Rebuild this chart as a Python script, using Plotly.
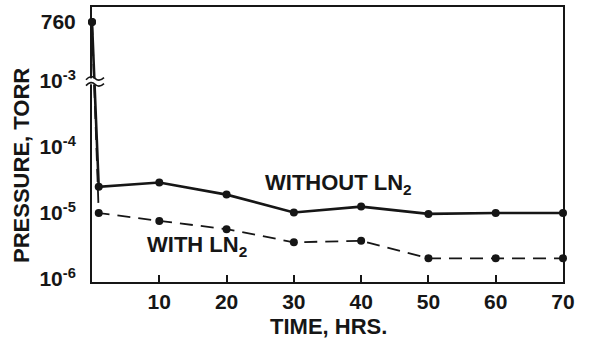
import math
import plotly.graph_objects as go

# ---- data ----
time_hrs = [0, 1, 10, 20, 30, 40, 50, 60, 70]
p_without_ln2 = [760, 2.5e-5, 2.9e-5, 1.9e-5, 1.02e-5, 1.25e-5, 0.97e-5, 1.0e-5, 1.0e-5]
p_with_ln2 = [760, 1.0e-5, 7.6e-6, 5.7e-6, 3.6e-6, 3.8e-6, 2.06e-6, 2.06e-6, 2.06e-6]
x_ticks = [10, 20, 30, 40, 50, 60, 70]
y_tick_pressures = [1e-6, 1e-5, 1e-4, 1e-3, 760]
y_tick_labels = ["10<sup>-6</sup>", "10<sup>-5</sup>", "10<sup>-4</sup>", "10<sup>-3</sup>", "760"]
x_title = "TIME, HRS."
y_title = "PRESSURE, TORR"

# broken log axis: below 1e-3 is log10; atmosphere (760) placed just above the break
BREAK_TOP = -2.106


def ypos(p):
    return BREAK_TOP if p > 1e-3 else math.log10(p)


INK = "#161616"
FONT = "Liberation Sans"

fig = go.Figure()
fig.add_trace(go.Scatter(
    x=time_hrs, y=[ypos(p) for p in p_without_ln2], mode="lines+markers",
    line=dict(color=INK, width=2.6), marker=dict(color=INK, size=8),
    cliponaxis=False, showlegend=False, hoverinfo="skip"))
fig.add_trace(go.Scatter(
    x=time_hrs, y=[ypos(p) for p in p_with_ln2], mode="lines+markers",
    line=dict(color=INK, width=1.8, dash="13px,8px"), marker=dict(color=INK, size=8),
    cliponaxis=False, showlegend=False, hoverinfo="skip"))

# axis break symbol
px = 1 / 471.0
fig.add_shape(type="rect", xref="paper", yref="y", x0=-6 * px, x1=12 * px, y0=-2.96, y1=-3.05,
              fillcolor="white", line=dict(width=0), layer="above")
for yb in (-2.96, -3.05):
    fig.add_shape(type="path", xref="paper", yref="y",
                  path=f"M {-6*px},{yb-0.02} Q {-1*px},{yb+0.06} {3*px},{yb} T {12*px},{yb+0.01}",
                  line=dict(color=INK, width=1.6), layer="above")

fig.add_annotation(x=36.6, y=-4.56, text="WITHOUT LN<sub>2</sub>", showarrow=False,
                   xanchor="center", yanchor="middle",
                   font=dict(family=FONT, size=22, color=INK, weight="bold"))
fig.add_annotation(x=15.6, y=-5.5, text="WITH LN<sub>2</sub>", showarrow=False,
                   xanchor="center", yanchor="middle",
                   font=dict(family=FONT, size=22, color=INK, weight="bold"))

# axis titles
fig.add_annotation(xref="paper", yref="paper", x=0.503, y=-0.162, text=x_title, showarrow=False,
                   xanchor="center", yanchor="middle",
                   font=dict(family=FONT, size=22, color=INK, weight="bold"))
fig.add_annotation(xref="paper", yref="paper", x=-0.1486, y=0.422, text=y_title, showarrow=False,
                   xanchor="center", yanchor="middle", textangle=-90,
                   font=dict(family=FONT, size=22, color=INK, weight="bold"))

fig.update_layout(
    width=593, height=339,
    margin=dict(l=92, r=30, t=7, b=57, autoexpand=False),
    paper_bgcolor="white", plot_bgcolor="white",
    font=dict(family=FONT, color=INK, weight="bold"),
    xaxis=dict(range=[0, 70], tickvals=x_ticks, ticks="inside", ticklen=7, tickwidth=2,
               tickcolor=INK, showline=True, linewidth=2, linecolor=INK, mirror=True,
               showgrid=False, zeroline=False, automargin=False, ticklabelstandoff=0,
               tickfont=dict(family=FONT, size=21, color=INK, weight="bold")),
    yaxis=dict(range=[-6.045, -1.879], tickvals=[ypos(p) for p in y_tick_pressures],
               ticktext=y_tick_labels, ticks="", showline=True, linewidth=2, linecolor=INK,
               mirror=True, showgrid=False, zeroline=False, ticklabelstandoff=10,
               automargin=False,
               tickfont=dict(family=FONT, size=21, color=INK, weight="bold")),
)

fig.write_html("out.html", config={"displayModeBar": False},
               post_script="document.body.style.margin='0';")
